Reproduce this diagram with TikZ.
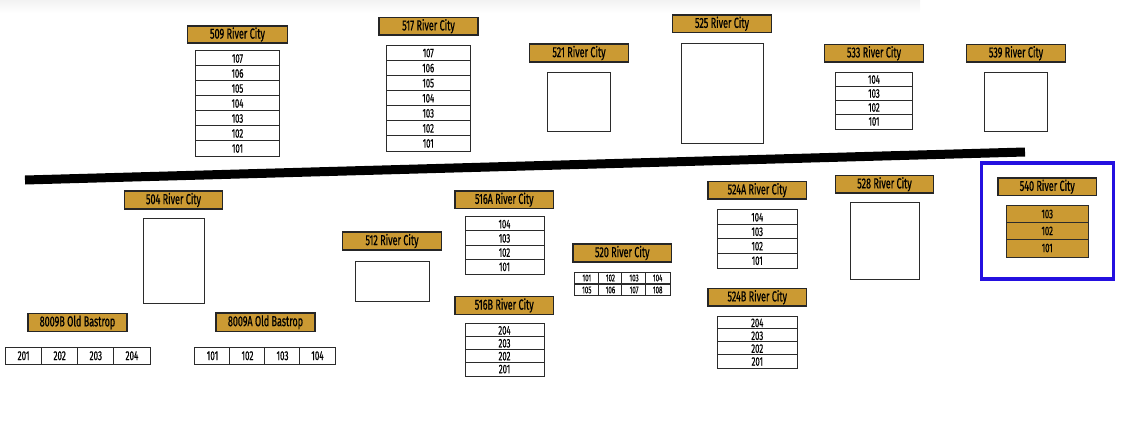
\documentclass[tikz,border=0pt]{standalone}
\usepackage{fontspec}
\setmainfont[FakeStretch=0.62]{Fira Sans}
\definecolor{gold}{HTML}{CB9A33}
\definecolor{bluebox}{HTML}{2410E0}
\definecolor{edge}{HTML}{2B2B2B}
\tikzset{
  x=1pt,y=-1pt,
  lab/.style={draw=black!85,line width=1.6pt,fill=gold,inner sep=0pt,font=\fontsize{14.5}{14.5}\selectfont\addfontfeature{FakeBold=0.6}},
  cell/.style={draw=edge,line width=1pt,fill=white,inner sep=0pt,font=\fontsize{12.5}{12.5}\selectfont\addfontfeature{FakeBold=0.5}},
  smallcell/.style={cell,line width=0.7pt,font=\fontsize{10}{10}\selectfont\addfontfeature{FakeBold=0.4}},
  rowcell/.style={cell,font=\fontsize{13}{13}\selectfont\addfontfeature{FakeBold=0.6}},
  unit/.style={draw=edge,line width=1pt,fill=white,inner sep=0pt},
}
% label: name, x0, y0, x1, y1, text
\newcommand{\labbox}[6]{\node[lab,minimum width=#4pt-#2pt-1pt,minimum height=#5pt-#3pt-1pt] (#1) at ({(#2+#4)/2},{(#3+#5)/2}) {#6};}
% empty unit
\newcommand{\emptyunit}[5]{\node[unit,minimum width=#4pt-#2pt-1pt,minimum height=#5pt-#3pt-1pt] (#1) at ({(#2+#4)/2},{(#3+#5)/2}) {};}
% vertical stack: name, x0, y0, x1, y1, nrows, list, style
\newcommand{\stackunits}[8]{%
  \foreach \t [count=\i from 0] in {#7} {%
    \pgfmathsetmacro{\h}{(#5-#3-1)/#6}%
    \node[#8,minimum width=#4pt-#2pt-1pt,minimum height=\h pt+1pt] (#1-\t) at ({(#2+#4)/2},{#3+0.5+(\i+0.5)*\h}) {\t};%
  }%
}
% horizontal row: name, x0, y0, x1, y1, ncols, list, style
\newcommand{\rowunits}[8]{%
  \foreach \t [count=\i from 0] in {#7} {%
    \pgfmathsetmacro{\w}{(#4-#2-1)/#6}%
    \node[#8,minimum height=#5pt-#3pt-1pt,minimum width=\w pt+1pt] (#1-\t) at ({#2+0.5+(\i+0.5)*\w},{(#3+#5)/2}) {\t};%
  }%
}
\begin{document}
\begin{tikzpicture}
\useasboundingbox (0,0) rectangle (1136,437);
\shade[top color=black!5,bottom color=white] (0,0) rectangle (920,13);

\labbox{l509}{187}{25.5}{288}{43.5}{509 River City}
\stackunits{u509}{195}{50.5}{280}{156.5}{7}{107,106,105,104,103,102,101}{cell}
\labbox{l517}{378.5}{17}{478.5}{35.5}{517 River City}
\stackunits{u517}{386}{45}{470.5}{151.5}{7}{107,106,105,104,103,102,101}{cell}
\labbox{l521}{529}{43.5}{629}{62.5}{521 River City}
\emptyunit{u521}{547}{72}{611}{132}
\labbox{l525}{672}{14.5}{772}{33}{525 River City}
\emptyunit{u525}{681}{43}{764}{144}
\labbox{l533}{824}{44}{924}{62.5}{533 River City}
\stackunits{u533}{835}{72}{913}{129}{4}{104,103,102,101}{cell}
\labbox{l539}{966}{44}{1066}{62.5}{539 River City}
\emptyunit{u539}{984}{72}{1048}{132}

\coordinate (roadL) at (25,180);
\coordinate (roadR) at (1025,152);
\draw[line width=9pt] (roadL) -- (roadR);

\labbox{l504}{124}{190.5}{223}{209.5}{504 River City}
\emptyunit{u504}{142.5}{217.5}{204.5}{304}
\labbox{l512}{342}{231.5}{442}{250.5}{512 River City}
\emptyunit{u512}{355}{261}{429.5}{302}
\labbox{l516a}{454.5}{190.5}{554}{209}{516A River City}
\stackunits{u516a}{464.5}{216.5}{544.5}{274.5}{4}{104,103,102,101}{cell}
\labbox{l516b}{454.5}{296}{554}{315}{516B River City}
\stackunits{u516b}{464.5}{323.5}{544.5}{376}{4}{204,203,202,201}{cell}
\labbox{l520}{572.5}{243.5}{672}{262.5}{520 River City}
\rowunits{u520a}{574.5}{272}{670}{284}{4}{101,102,103,104}{smallcell}
\rowunits{u520b}{574.5}{284}{670}{296}{4}{105,106,107,108}{smallcell}
\labbox{l524a}{707.5}{181}{807}{199.5}{524A River City}
\stackunits{u524a}{717}{209.5}{797.5}{268.5}{4}{104,103,102,101}{cell}
\labbox{l524b}{707.5}{288}{807}{306.5}{524B River City}
\stackunits{u524b}{717}{316}{797.5}{368.5}{4}{204,203,202,201}{cell}
\labbox{l528}{835}{175}{934}{193.5}{528 River City}
\emptyunit{u528}{850}{202}{920}{280}

\node[draw=bluebox,line width=3.2pt,minimum width=132pt,minimum height=116pt,inner sep=0pt] (hl) at (1047.7,221) {};
\labbox{l540}{997.5}{177.5}{1097}{196}{540 River City}
\stackunits{u540}{1005.5}{205}{1089}{257}{3}{103,102,101}{cell,fill=gold}

\labbox{l8009b}{27.5}{313}{127.5}{332}{8009B Old Bastrop}
\rowunits{u8009b}{5}{346.5}{150.5}{365}{4}{201,202,203,204}{rowcell}
\labbox{l8009a}{215.5}{312.5}{315.5}{332}{8009A Old Bastrop}
\rowunits{u8009a}{194.5}{346.5}{335.5}{365}{4}{101,102,103,104}{rowcell}
\end{tikzpicture}
\end{document}
